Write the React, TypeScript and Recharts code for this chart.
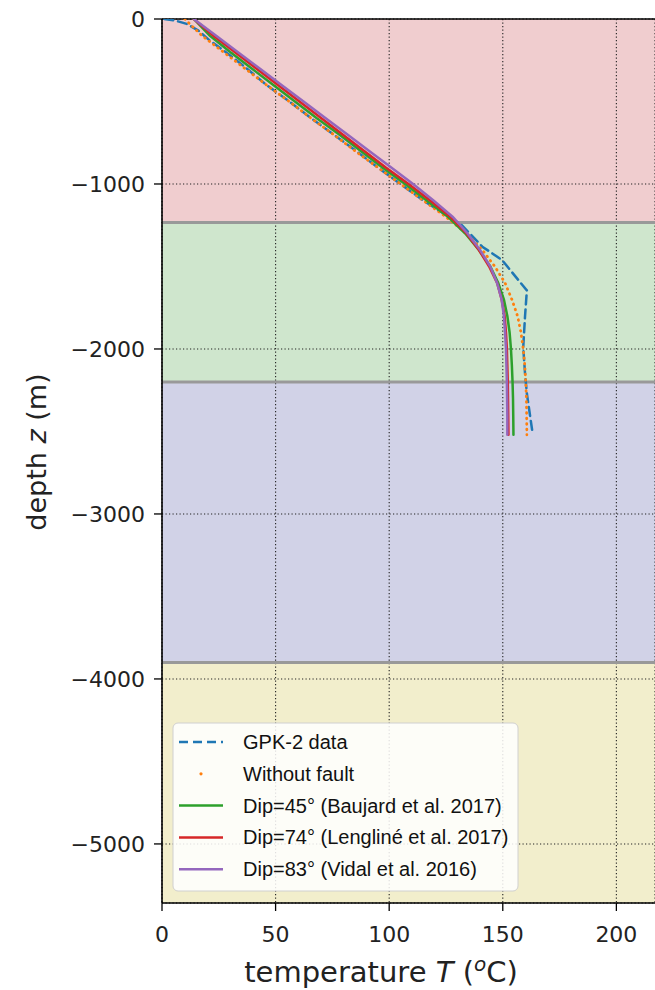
import React from 'react';
import { LineChart, Line, XAxis, YAxis, CartesianGrid, ReferenceArea, ReferenceLine, Customized } from 'recharts';

// ---- data ----
const depths = [0, -100, -200, -300, -400, -500, -600, -700, -800, -900, -1000, -1100, -1200, -1300, -1400, -1500, -1600, -1700, -1800, -1900, -2000, -2100, -2200, -2300, -2400, -2520];
const tempNoFault = [10, 17.5, 27, 36.5, 46, 56, 65.5, 75.5, 85, 95, 105, 115, 125, 134, 141, 146.5, 151, 154, 156.5, 158, 159, 159.7, 160.1, 160.4, 160.5, 160.6];
const tempDip45 = [14, 21, 30, 39.5, 49, 58.5, 68, 78, 87.5, 97, 107, 116.5, 126, 133.5, 139.5, 144.5, 148, 150.5, 152, 153, 153.6, 154, 154.3, 154.5, 154.6, 154.7];
const tempDip74 = [14, 22.5, 32, 41.5, 51, 60.5, 70, 79.5, 89, 98.5, 108.5, 118, 127, 134, 139.5, 144, 147.5, 149.5, 150.8, 151.4, 151.8, 152, 152.2, 152.3, 152.4, 152.5];
const tempDip83 = [14, 23.7, 33.3, 43, 52.6, 62.3, 71.9, 81.6, 91.2, 100.9, 110.5, 119.5, 128, 134.5, 140, 144.5, 147.5, 149.5, 150.5, 151, 151.4, 151.6, 151.8, 151.9, 152, 152];
const gpkDepths = [0, -10, -30, -70, -130, -200, -280, -400, -500, -600, -700, -800, -900, -1000, -1100, -1250, -1380, -1460, -1645, -1800, -1990, -2150, -2270, -2490];
const gpkTemps = [1, 6, 11, 16, 21, 28, 35.5, 46, 56, 65.5, 75.5, 85.5, 95, 105, 115, 132, 141, 149.6, 160.6, 159.8, 159, 159.8, 160.6, 162.9];

const seriesNames = ['GPK-2 data', 'Without fault', 'Dip=45° (Baujard et al. 2017)', 'Dip=74° (Lengliné et al. 2017)', 'Dip=83° (Vidal et al. 2016)'];
const seriesColors = ['#1f77b4', '#ff7f0e', '#2ca02c', '#d62728', '#9467bd'];
const seriesDash = ['9 5', '0.5 5', undefined, undefined, undefined];

const xTicks = [0, 50, 100, 150, 200];
const yTicks = [0, -1000, -2000, -3000, -4000, -5000];
const layerTops = [0, -1233, -2200, -3900];
const layerBottoms = [-1233, -2200, -3900, -5358];
const layerColors = ['#f0cdcf', '#cfe6cd', '#d1d2e7', '#f2eecc'];

const X_DOMAIN: [number, number] = [0, 217];
const Y_DOMAIN: [number, number] = [-5358, 0];

const makeSeries = (temps: number[], zs: number[]) => temps.map((t, i) => ({ t, z: zs[i] }));
const seriesData = [
  makeSeries(gpkTemps, gpkDepths),
  makeSeries(tempNoFault, depths),
  makeSeries(tempDip45, depths),
  makeSeries(tempDip74, depths),
  makeSeries(tempDip83, depths),
];

const fmtY = (v: number) => (v < 0 ? '\u2212' + Math.abs(v) : String(v));

const Overlay = () => {
  const legendLeft = 173;
  const legendTop = 723;
  const rowY0 = 742;
  const rowStep = 31.8;
  return (
    <g>
      <text x={36} y={452} transform="rotate(-90 36 452)" textAnchor="middle" dominantBaseline="central"
        fontFamily="DejaVu Sans" fontSize={27} fill="#222">
        depth <tspan fontStyle="italic">z</tspan> (m)
      </text>
      <text x={381} y={982} textAnchor="middle" fontFamily="DejaVu Sans" fontSize={29} fill="#222">
        temperature <tspan fontStyle="italic">T</tspan> (<tspan fontStyle="italic" fontSize={20} dy={-11}>o</tspan><tspan dy={11}>C)</tspan>
      </text>
      <rect x={legendLeft} y={legendTop} width={345} height={168} rx={5} ry={5}
        fill="#ffffff" fillOpacity={0.85} stroke="#d0d0d0" strokeWidth={1} />
      {seriesNames.map((name, i) => {
        const y = rowY0 + i * rowStep;
        return (
          <g key={name}>
            {i === 1 ? (
              <circle cx={201} cy={y} r={1.6} fill={seriesColors[i]} />
            ) : (
              <line x1={179} x2={223} y1={y} y2={y} stroke={seriesColors[i]} strokeWidth={2.5}
                strokeDasharray={seriesDash[i]} />
            )}
            <text x={243} y={y} dominantBaseline="central" fontFamily="Liberation Sans" fontSize={20} fill="#111">{name}</text>
          </g>
        );
      })}
    </g>
  );
};

export default function App() {
  return (
    <div style={{ position: 'absolute', left: 0, top: 0, width: 655, height: 990, overflow: 'hidden', background: '#fff' }}>
      <LineChart width={655} height={990} margin={{ top: 19, right: 0, left: 0, bottom: 0 }}>
        {layerTops.map((top, i) => (
          <ReferenceArea key={'a' + i} y1={layerBottoms[i]} y2={top} fill={layerColors[i]} fillOpacity={1}
            stroke="none" ifOverflow="hidden" zIndex={-200} />
        ))}
        <CartesianGrid stroke="#222" strokeDasharray="1.2 2.3" strokeWidth={1.1} />
        {layerBottoms.slice(0, 3).map((b, i) => (
          <ReferenceLine key={'b' + i} y={b} stroke="#999999" strokeWidth={3} />
        ))}
        <ReferenceLine y={0} stroke="#000" strokeWidth={1.6} ifOverflow="visible" />
        <XAxis type="number" dataKey="t" domain={X_DOMAIN} ticks={xTicks} allowDataOverflow height={87}
          axisLine={{ stroke: '#000', strokeWidth: 1.6 }} tickLine={{ stroke: '#000', strokeWidth: 1.3 }}
          tickSize={8} tickMargin={15} tick={{ fontSize: 22, fill: '#222', fontFamily: 'DejaVu Sans' }} />
        <YAxis type="number" dataKey="z" domain={Y_DOMAIN} ticks={yTicks} allowDataOverflow width={162}
          axisLine={{ stroke: '#000', strokeWidth: 1.6 }} tickLine={{ stroke: '#000', strokeWidth: 1.3 }}
          tickSize={8} tickMargin={9} tickFormatter={fmtY}
          tick={{ fontSize: 22, fill: '#222', fontFamily: 'DejaVu Sans' }} />
        {seriesData.map((d, i) => (
          <Line key={seriesNames[i]} data={d} dataKey="z" name={seriesNames[i]} type="linear"
            stroke={seriesColors[i]} strokeWidth={i === 1 ? 2.8 : 2.5} strokeDasharray={seriesDash[i]}
            strokeLinecap="round" dot={false} activeDot={false} isAnimationActive={false} />
        ))}
        <Customized component={Overlay} />
      </LineChart>
    </div>
  );
}
